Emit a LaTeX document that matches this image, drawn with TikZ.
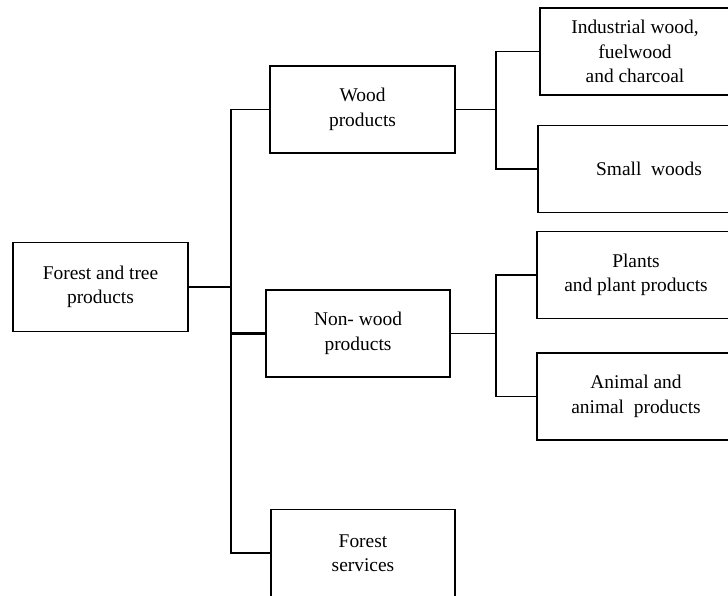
\documentclass[tikz,border=0pt]{standalone}
\usepackage{fontspec}
\setmainfont{Liberation Serif}
\usepackage{tikz}
\usetikzlibrary{positioning}

\begin{document}
\begin{tikzpicture}[x=1bp, y=-1bp, line width=1.1bp,
    main/.style = {draw, rectangle, align=center, inner sep=0pt,
      minimum height=87bp, font=\fontsize{19.5}{24.5}\selectfont}]
            \useasboundingbox (0,0) rectangle (728,596);
            % Nodes
            \node[main, minimum width=175bp, minimum height=89bp] (root) at (100.5,287) {Forest and tree\\products};
            \node[main, minimum width=185bp] (wood) at (362.5,109.5) {Wood\\products};
            \node[main, minimum width=184bp] (nonwood) at (358,333.5) {Non- wood\\products};
            \node[main, minimum width=184bp] (services) at (363,553) {Forest\\services};
            \node[main, minimum width=190bp] (ind) at (635,51.5) {Industrial wood,\\fuelwood\\and charcoal};
            \node[main, minimum width=222bp] (small) at (649,169) {Small\ \ woods};
            \node[main, minimum width=198bp] (plants) at (636,275) {Plants\\and plant products};
            \node[main, minimum width=198bp] (animal) at (636,396.5) {Animal and\\animal\ \ products};
            % Junctions
            \coordinate (trunk) at (231,287);
            \coordinate (wb) at (496,109.5);
            \coordinate (nb) at (496,333.5);
            % Edges
            \draw (root) -- (trunk);
            \draw (wood.west) -| (trunk) |- (services.west);
            \draw[line width=2.2bp] (trunk |- nonwood.west) -- (nonwood.west);
            \draw (wood) -- (wb);
            \draw (ind.west) -| (wb) |- (small.west);
            \draw (nonwood) -- (nb);
            \draw (plants.west) -| (nb) |- (animal.west);
\end{tikzpicture}
\end{document}
